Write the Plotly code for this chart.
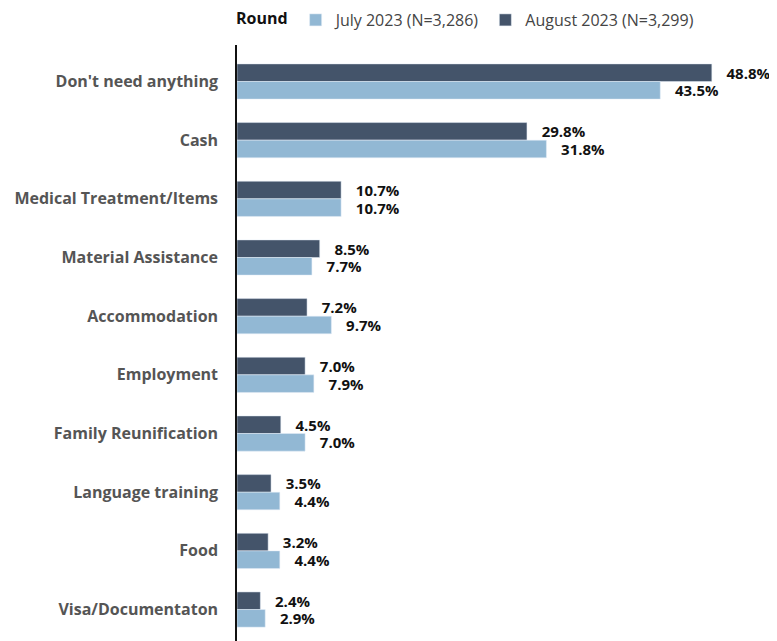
import plotly.graph_objects as go

categories = ["Don't need anything", "Cash", "Medical Treatment/Items", "Material Assistance",
              "Accommodation", "Employment", "Family Reunification", "Language training",
              "Food", "Visa/Documentaton"]
july = [43.5, 31.8, 10.7, 7.7, 9.7, 7.9, 7.0, 4.4, 4.4, 2.9]
august = [48.8, 29.8, 10.7, 8.5, 7.2, 7.0, 4.5, 3.5, 3.2, 2.4]
series_names = ["July 2023 (N=3,286)", "August 2023 (N=3,299)"]

DARK = "#44546A"
LIGHT = "#92B8D4"
FONT = "Open Sans"
pad = "\u00a0\u00a0\u00a0"

fig = go.Figure()
fig.add_trace(go.Bar(
    y=categories, x=august, name=series_names[1], orientation="h",
    marker=dict(color=DARK), legendrank=2,
    text=[pad + f"{v:.1f}%" for v in august], textposition="outside",
    textfont=dict(family=FONT, size=15, color="#111111", weight="bold"),
    cliponaxis=False, constraintext="none",
))
fig.add_trace(go.Bar(
    y=categories, x=july, name=series_names[0], orientation="h",
    marker=dict(color=LIGHT), legendrank=1,
    text=[pad + f"{v:.1f}%" for v in july], textposition="outside",
    textfont=dict(family=FONT, size=15, color="#111111", weight="bold"),
    cliponaxis=False, constraintext="none",
))

fig.update_layout(
    width=769, height=633,
    margin=dict(l=229, r=10, t=37, b=0, autoexpand=False),
    barmode="group", bargap=0.4, bargroupgap=0,
    plot_bgcolor="white", paper_bgcolor="white",
    font=dict(family=FONT, size=16, color="#555555"),
    legend=dict(
        orientation="h", x=226 / 769, xanchor="left", xref="container",
        y=1 - 12 / 633, yanchor="middle", yref="container",
        title=dict(text="<b>Round</b>", font=dict(family=FONT, size=16, color="#111111")),
        font=dict(family=FONT, size=16, color="#444444"),
        traceorder="normal",
    ),
    xaxis=dict(range=[0, 54.47], visible=False, showgrid=False, zeroline=False),
    yaxis=dict(
        range=[9.536, -0.622], showline=True, linecolor="#111111", linewidth=1.5,
        showgrid=False, zeroline=False, ticks="", ticklabelstandoff=14, automargin=False,
        tickfont=dict(family=FONT, size=16, color="#555555", weight="bold"),
    ),
)

fig.write_html("out.html")
